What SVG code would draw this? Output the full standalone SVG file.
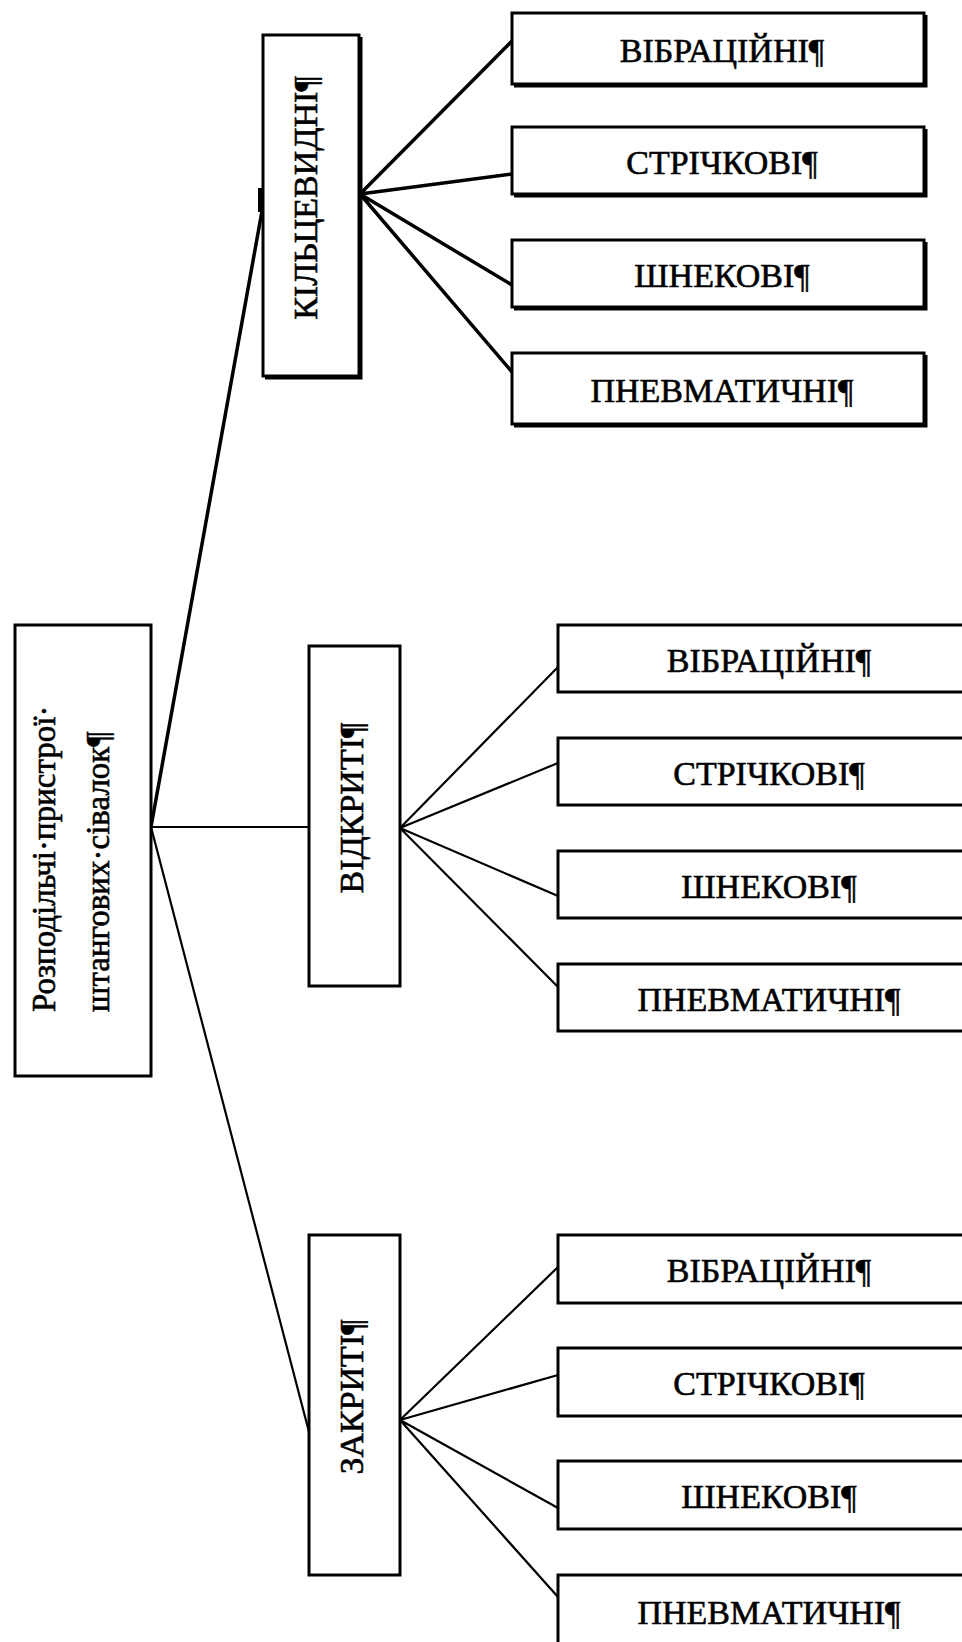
<svg xmlns="http://www.w3.org/2000/svg" width="962" height="1642" viewBox="0 0 962 1642">
<style>
.box{fill:#fff;stroke:#000;stroke-width:3}
.sh{fill:none;stroke:#000;stroke-width:3}
.lbl{font-family:"Liberation Serif","Times New Roman",serif;font-size:34px;fill:#000;stroke:#000;stroke-width:0.6}
.rt{font-size:33px}
.h{text-anchor:middle}
.v{text-anchor:middle}
.c{stroke:#000;fill:none;stroke-linecap:round}
.c3{stroke-width:3.5}
.c2{stroke-width:2.2}
</style>
<rect width="962" height="1642" fill="#fff"/>
<g id="connectors">
<path class="c c3" d="M151,827 L262,211"/>
<rect x="258" y="188" width="6" height="24" fill="#000"/>
<path class="c c2" d="M151,827 L309,827"/>
<path class="c c2" d="M151,827 L309,1432"/>
<path class="c c3" d="M360,194 L512,41 M360,194 L512,174 M360,194 L512,285 M360,194 L512,372"/>
<path class="c c2" d="M400,828 L558,667 M400,828 L558,763 M400,828 L558,896 M400,828 L558,987"/>
<path class="c c2" d="M400,1420 L558,1267 M400,1420 L558,1375 M400,1420 L558,1508 M400,1420 L558,1597"/>
</g>
<g id="root">
<rect class="box" x="15" y="625" width="136" height="451"/>
<text class="lbl rt" transform="translate(55,1012) rotate(-90)">Розподільчі·пристрої·</text>
<text class="lbl rt" transform="translate(109,1012) rotate(-90)">штангових·сівалок¶</text>
</g>
<g id="kiltsevydni">
<rect class="box" x="263" y="35" width="96" height="341"/>
<path class="sh" d="M361,37 V378 H265"/>
<text class="lbl v" transform="translate(317,198) rotate(-90)">КІЛЬЦЕВИДНІ¶</text>
</g>
<g id="vidkryti">
<rect class="box" x="309" y="646" width="91" height="340"/>
<text class="lbl v" transform="translate(363,808) rotate(-90)">ВІДКРИТІ¶</text>
</g>
<g id="zakryti">
<rect class="box" x="309" y="1235" width="91" height="340"/>
<text class="lbl v" transform="translate(363,1397) rotate(-90)">ЗАКРИТІ¶</text>
</g>
<g id="k-vibr">
<rect class="box" x="512" y="13" width="412" height="71"/>
<path class="sh" d="M926,15 V86 H514"/>
<text class="lbl h" x="722" y="62">ВІБРАЦІЙНІ¶</text>
</g>
<g id="k-strich">
<rect class="box" x="512" y="127" width="412" height="67"/>
<path class="sh" d="M926,129 V196 H514"/>
<text class="lbl h" x="722" y="174">СТРІЧКОВІ¶</text>
</g>
<g id="k-shnek">
<rect class="box" x="512" y="240" width="412" height="67"/>
<path class="sh" d="M926,242 V309 H514"/>
<text class="lbl h" x="722" y="287">ШНЕКОВІ¶</text>
</g>
<g id="k-pnevm">
<rect class="box" x="512" y="353" width="412" height="71"/>
<path class="sh" d="M926,355 V426 H514"/>
<text class="lbl h" x="722" y="402">ПНЕВМАТИЧНІ¶</text>
</g>
<g id="v-vibr">
<rect class="box" x="558" y="625" width="420" height="67"/>
<text class="lbl h" x="769" y="672">ВІБРАЦІЙНІ¶</text>
</g>
<g id="v-strich">
<rect class="box" x="558" y="738" width="420" height="67"/>
<text class="lbl h" x="769" y="785">СТРІЧКОВІ¶</text>
</g>
<g id="v-shnek">
<rect class="box" x="558" y="851" width="420" height="67"/>
<text class="lbl h" x="769" y="898">ШНЕКОВІ¶</text>
</g>
<g id="v-pnevm">
<rect class="box" x="558" y="964" width="420" height="67"/>
<text class="lbl h" x="769" y="1011">ПНЕВМАТИЧНІ¶</text>
</g>
<g id="z-vibr">
<rect class="box" x="558" y="1235" width="420" height="68"/>
<text class="lbl h" x="769" y="1282">ВІБРАЦІЙНІ¶</text>
</g>
<g id="z-strich">
<rect class="box" x="558" y="1348" width="420" height="68"/>
<text class="lbl h" x="769" y="1395">СТРІЧКОВІ¶</text>
</g>
<g id="z-shnek">
<rect class="box" x="558" y="1461" width="420" height="68"/>
<text class="lbl h" x="769" y="1508">ШНЕКОВІ¶</text>
</g>
<g id="z-pnevm">
<rect class="box" x="558" y="1575" width="420" height="72"/>
<text class="lbl h" x="769" y="1624">ПНЕВМАТИЧНІ¶</text>
</g>
</svg>
